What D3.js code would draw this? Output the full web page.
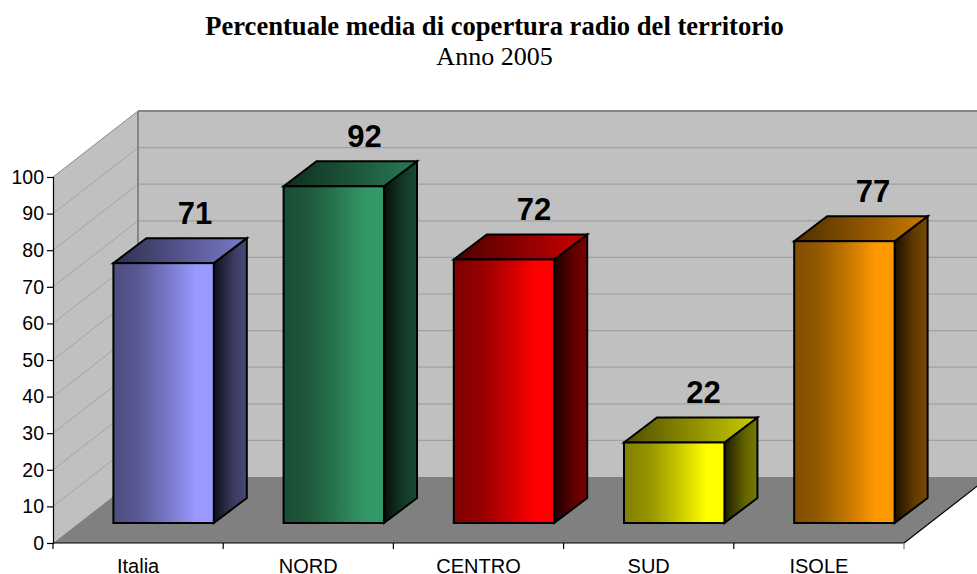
<!DOCTYPE html>
<html><head><meta charset="utf-8">
<script src="https://cdn.jsdelivr.net/npm/d3@7/dist/d3.min.js"></script>
<style>html,body{margin:0;padding:0;background:#fff}svg{display:block}</style>
</head><body><svg id="c" width="977" height="574"></svg>
<script>
const categories = ["Italia","NORD","CENTRO","SUD","ISOLE"];
const values = [71,92,72,22,77];
const yTicks = [0,10,20,30,40,50,60,70,80,90,100];
const baseColors = ["#9999ff","#339966","#ff0000","#ffff00","#ff9900"];
const titleMain = "Percentuale media di copertura radio del territorio";
const titleSub = "Anno 2005";

const svg = d3.select("#c");
const defs = svg.append("defs");
const x = d3.scaleBand().domain(categories).range([53,904]).paddingInner(0.41).paddingOuter(0.205);
const xLabel = d3.scalePoint().domain(categories).range([195,873]);
const y = d3.scaleLinear().domain([0,100]).range([543,177]);
const dX = 85, dY = -66;          // wall depth
const bX = 25.5, bY = -20;        // bar front plane offset
const bdX = 33, bdY = -25;        // bar depth

const sans = "'Liberation Sans',Arial,sans-serif", serif = "'Liberation Serif','Times New Roman',serif";

// Walls
const wall = "#c0c0c0", edge = "#868686";
const poly = a => a.map(p=>p.join(",")).join(" ");
svg.append("polygon").attr("fill",wall).attr("points",poly([[53,y(100)],[53+dX,y(100)+dY],[53+dX,y(0)+dY],[53,y(0)]]));
svg.append("rect").attr("fill",wall).attr("x",53+dX).attr("y",y(100)+dY).attr("width",851).attr("height",y(0)-y(100));
svg.append("polygon").attr("fill","#808080").attr("points",poly([[53,y(0)],[53+dX,y(0)+dY],[904+dX,y(0)+dY],[904,y(0)]]));
yTicks.slice(1).forEach(t=>{
  const top = t===100;
  svg.append("line").attr("x1",53).attr("y1",y(t)).attr("x2",53+dX).attr("y2",y(t)+dY).attr("stroke",top?"#8a8a8a":"#a4a4a4").attr("stroke-width",1);
  svg.append("line").attr("x1",53+dX).attr("y1",y(t)+dY).attr("x2",904+dX).attr("y2",y(t)+dY).attr("stroke",top?edge:"#a0a0a0").attr("stroke-width",top?2:1.2);
});
svg.append("line").attr("x1",53+dX).attr("x2",53+dX).attr("y1",y(100)+dY).attr("y2",y(0)+dY).attr("stroke",edge).attr("stroke-width",2);

// Bars
function grad(id,stops){
  const g = defs.append("linearGradient").attr("id",id).attr("x1","0").attr("x2","1").attr("y1","0").attr("y2","0");
  stops.forEach(([o,c])=>g.append("stop").attr("offset",o).attr("stop-color",c));
}
const mix=(c,k)=>{const r=d3.rgb(c);return d3.rgb(r.r*k,r.g*k,r.b*k).formatHex();};
categories.forEach((cat,i)=>{
  const c = baseColors[i];
  grad("f"+i,[[0,mix(c,0.5)],[0.25,mix(c,0.58)],[0.5,mix(c,0.75)],[0.82,c],[1,c]]);
  grad("t"+i,[[0,mix(c,0.3)],[1,mix(c,0.8)]]);
  grad("s"+i,[[0,mix(c,0.1)],[0.6,mix(c,0.38)],[1,mix(c,0.48)]]);
  const l = x(cat)+bX, r = l+x.bandwidth(), bot = y(0)+bY, top = y(values[i])+bY;
  const g = svg.append("g").attr("stroke","#000").attr("stroke-width",2).attr("stroke-linejoin","miter");
  g.append("polygon").attr("fill",`url(#s${i})`).attr("points",poly([[r,top],[r+bdX,top+bdY],[r+bdX,bot+bdY],[r,bot]]));
  g.append("polygon").attr("fill",`url(#t${i})`).attr("points",poly([[l,top],[l+bdX,top+bdY],[r+bdX,top+bdY],[r,top]]));
  g.append("rect").attr("fill",`url(#f${i})`).attr("x",l).attr("y",top).attr("width",r-l).attr("height",bot-top);
  svg.append("text").text(values[i]).attr("x",xLabel(cat)).attr("y",top+bdY-14).attr("text-anchor","middle")
    .attr("font-family",sans).attr("font-weight","bold").attr("font-size",31).attr("fill","#000");
});

// Axes
const yAxis = d3.axisLeft(y).tickValues(yTicks).tickSize(6).tickPadding(3);
const ga = svg.append("g").attr("transform","translate(53,0)").call(yAxis);
ga.selectAll("text").attr("font-family",sans).attr("font-size",19.5).attr("fill","#000");
ga.selectAll("line,path").attr("stroke","#000").attr("stroke-width",1.2);
const xEdge = d3.scaleLinear().domain([0,categories.length]).range([53,904]);
const xg = svg.append("g");
xg.append("line").attr("x1",53).attr("x2",904).attr("y1",y(0)).attr("y2",y(0)).attr("stroke","#000").attr("stroke-width",1.2);
xg.append("line").attr("x1",904).attr("x2",904+dX).attr("y1",y(0)).attr("y2",y(0)+dY).attr("stroke","#000").attr("stroke-width",1.2);
d3.range(categories.length+1).forEach(i=>{
  xg.append("line").attr("x1",xEdge(i)).attr("x2",xEdge(i)).attr("y1",y(0)).attr("y2",y(0)+6).attr("stroke",i==5?"#777":"#000").attr("stroke-width",1.2);
});
categories.forEach((cat,i)=>{
  xg.append("text").text(cat).attr("x",xEdge(i+0.5)).attr("y",573).attr("text-anchor","middle")
    .attr("font-family",sans).attr("font-size",20).attr("fill","#000");
});

// Title
svg.append("text").text(titleMain).attr("x",494.5).attr("y",35).attr("text-anchor","middle")
  .attr("font-family",serif).attr("font-weight","bold").attr("font-size",26.6);
svg.append("text").text(titleSub).attr("x",494.5).attr("y",65).attr("text-anchor","middle")
  .attr("font-family",serif).attr("font-size",26);
</script></body></html>
